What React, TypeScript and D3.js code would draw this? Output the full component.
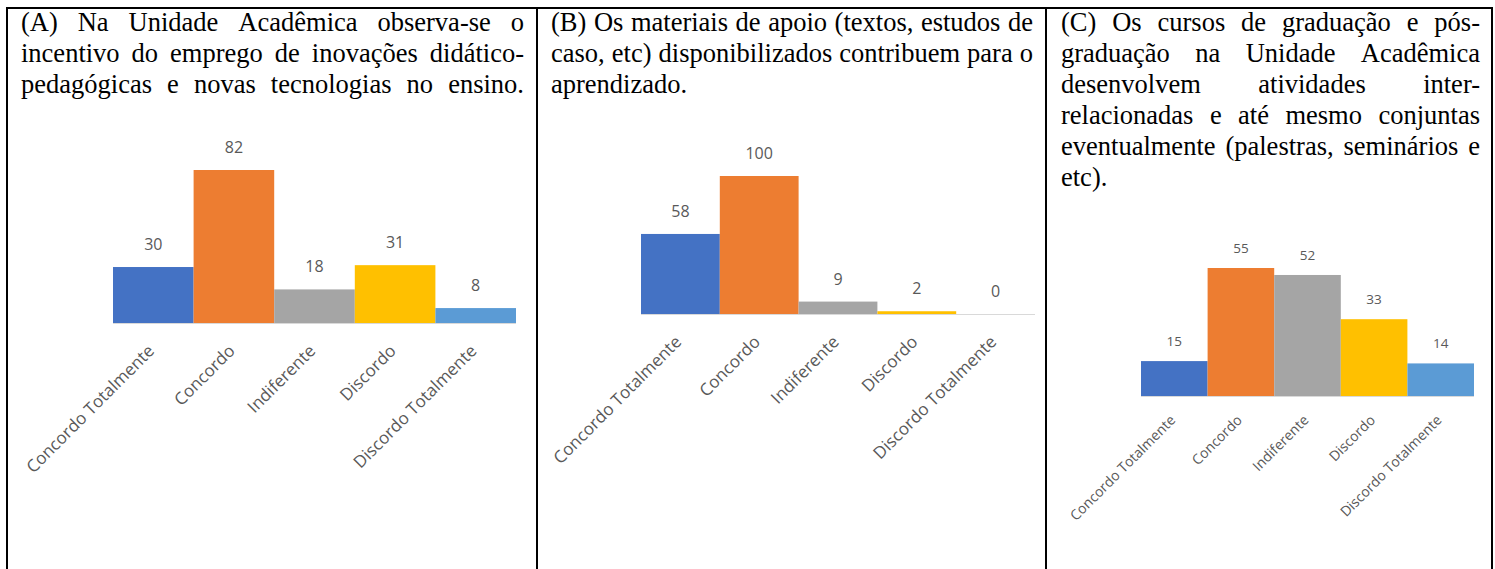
import React from "react";
import * as d3 from "d3";

const categories = ["Concordo Totalmente", "Concordo", "Indiferente", "Discordo", "Discordo Totalmente"];
const valuesA = [30, 82, 18, 31, 8];
const valuesB = [58, 100, 9, 2, 0];
const valuesC = [15, 55, 52, 33, 14];
const barColors = ["#4472C4", "#ED7D31", "#A5A5A5", "#FFC000", "#5B9BD5"];

const titleA = [
  "(A) Na Unidade Acadêmica observa-se o",
  "incentivo do emprego de inovações didático-",
  "pedagógicas e novas tecnologias no ensino.",
];
const titleB = [
  "(B) Os materiais de apoio (textos, estudos de",
  "caso, etc) disponibilizados contribuem para o",
  "aprendizado.",
];
const titleC = [
  "(C) Os cursos de graduação e pós-",
  "graduação na Unidade Acadêmica",
  "desenvolvem atividades inter-",
  "relacionadas e até mesmo conjuntas",
  "eventualmente (palestras, seminários e",
  "etc).",
];

const W = 1495;
const H = 569;
const SERIF = "'Liberation Serif', 'Times New Roman', serif";
const SANS = "'Open Sans', 'Noto Sans', sans-serif";

let ctx: CanvasRenderingContext2D | null = null;
function measure(text: string, font: string): number {
  if (!ctx) {
    const c = document.createElement("canvas");
    ctx = c.getContext("2d");
  }
  if (!ctx) return text.length * 12;
  ctx.font = font;
  return ctx.measureText(text).width;
}

function Paragraph({ lines, left, right, top, lh, size, justifyLast }: { lines: string[]; left: number; right: number; top: number; lh: number; size: number; justifyLast?: boolean }) {
  const font = `${size}px "Liberation Serif"`;
  const spaceW = measure(" ", font);
  const out: JSX.Element[] = [];
  lines.forEach((line, li) => {
    const words = line.split(" ");
    const widths = words.map((w) => measure(w, font));
    const total = widths.reduce((a, b) => a + b, 0);
    const isLast = li === lines.length - 1;
    const justify = (!isLast || justifyLast) && words.length > 1;
    const gap = justify ? (right - left - total) / (words.length - 1) : spaceW;
    let x = left;
    words.forEach((w, wi) => {
      out.push(
        <text key={`${li}-${wi}`} x={x} y={top + li * lh} fontFamily={SERIF} fontSize={size} fill="#000">
          {w}
        </text>
      );
      x += widths[wi] + gap;
    });
  });
  return <g>{out}</g>;
}

function BarChart({ values, x0, x1, base, topPx, valSize, catSize, valGap, catDx, catDy }: any) {
  const x = d3.scaleBand<string>().domain(categories).range([x0, x1]).padding(0);
  const maxV = d3.max(values as number[]) as number;
  const y = d3.scaleLinear().domain([0, maxV]).range([base, topPx]);
  return (
    <g>
      <line x1={x0} x2={x1} y1={base + 0.5} y2={base + 0.5} stroke="#D9D9D9" strokeWidth={1} />
      {categories.map((c, i) => (
        <rect key={c} x={x(c)} y={y(values[i])} width={x.bandwidth()} height={base - y(values[i])} fill={barColors[i]} />
      ))}
      {categories.map((c, i) => (
        <text
          key={"v" + c}
          x={(x(c) as number) + x.bandwidth() / 2}
          y={y(values[i]) - valGap}
          textAnchor="middle"
          fontFamily={SANS}
          fontSize={valSize}
          fill="#595959"
        >
          {values[i]}
        </text>
      ))}
      {categories.map((c, i) => {
        const cx = (x(c) as number) + x.bandwidth() / 2 + catDx;
        const cy = base + catDy;
        return (
          <text
            key={"c" + c}
            x={cx}
            y={cy}
            textAnchor="end"
            transform={`rotate(-45 ${cx} ${cy})`}
            fontFamily={SANS}
            fontSize={catSize}
            fill="#595959"
          >
            {c}
          </text>
        );
      })}
    </g>
  );
}

export default function App() {
  return (
    <svg width={W} height={H} style={{ position: "absolute", left: 0, top: 0, background: "#fff" }}>
      <rect x={0} y={0} width={W} height={H} fill="#fff" />
      <line x1={6} x2={1493} y1={8} y2={8} stroke="#000" strokeWidth={2} />
      <line x1={7} x2={7} y1={7} y2={H} stroke="#000" strokeWidth={2} />
      <line x1={537} x2={537} y1={7} y2={H} stroke="#000" strokeWidth={2} />
      <line x1={1046} x2={1046} y1={7} y2={H} stroke="#000" strokeWidth={2} />
      <line x1={1492} x2={1492} y1={7} y2={H} stroke="#000" strokeWidth={2} />

      <Paragraph lines={titleA} left={21} right={524} top={31} lh={31} size={26.5} justifyLast={true} />
      <Paragraph lines={titleB} left={551} right={1033} top={31} lh={31} size={26.5} />
      <Paragraph lines={titleC} left={1061} right={1480} top={31} lh={31} size={26.5} />

      <BarChart values={valuesA} x0={113} x1={516} base={323} topPx={170} valSize={16} catSize={17} valGap={17} catDx={2} catDy={29} />
      <BarChart values={valuesB} x0={641} x1={1035} base={314} topPx={176} valSize={16} catSize={17} valGap={17} catDx={2} catDy={29} />
      <BarChart values={valuesC} x0={1141} x1={1474} base={396} topPx={268} valSize={13.5} catSize={14} valGap={15} catDx={2} catDy={25} />
    </svg>
  );
}
